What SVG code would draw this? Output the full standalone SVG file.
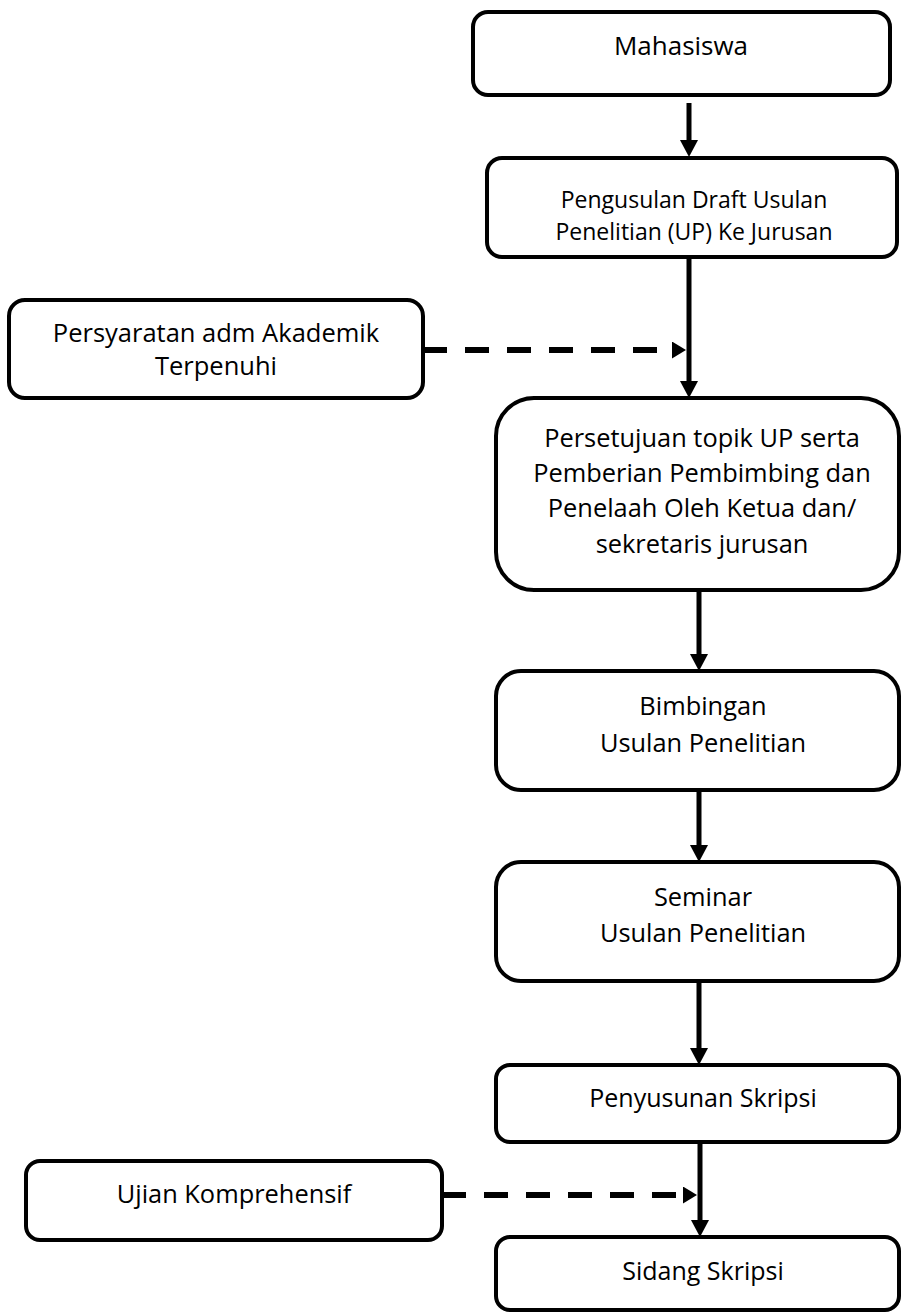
<svg xmlns="http://www.w3.org/2000/svg" width="901" height="1313" viewBox="0 0 901 1313">
<style>
.box{fill:#fff;stroke:#000;stroke-width:4}
.t{font-family:"Open Sans","Noto Sans",sans-serif;fill:#000;text-anchor:middle}
.solid{stroke:#000;stroke-width:5;fill:none}
.dash{stroke:#000;stroke-width:6;fill:none;stroke-dasharray:24 18}
</style>
<defs>
<marker id="ah" markerUnits="userSpaceOnUse" markerWidth="17" markerHeight="18" viewBox="0 0 17 18" refX="0" refY="9" orient="auto"><path d="M0,0 L17,9 L0,18 z" fill="#000"/></marker>
<marker id="ahd" markerUnits="userSpaceOnUse" markerWidth="14" markerHeight="17" viewBox="0 0 14 17" refX="0" refY="8.5" orient="auto"><path d="M0,0 L14,8.5 L0,17 z" fill="#000"/></marker>
</defs>
<rect width="901" height="1313" fill="#fff"/>
<g id="connectors">
<line class="solid" x1="689" y1="103" x2="689" y2="140" marker-end="url(#ah)"/>
<line class="solid" x1="689" y1="257" x2="689" y2="381" marker-end="url(#ah)"/>
<line class="solid" x1="699" y1="590" x2="699" y2="654" marker-end="url(#ah)"/>
<line class="solid" x1="699" y1="790" x2="699" y2="845" marker-end="url(#ah)"/>
<line class="solid" x1="699" y1="981" x2="699" y2="1048" marker-end="url(#ah)"/>
<line class="solid" x1="700" y1="1142" x2="700" y2="1220" marker-end="url(#ah)"/>
<line class="dash" x1="423" y1="350" x2="672" y2="350" marker-end="url(#ahd)"/>
<line class="dash" x1="442" y1="1195" x2="683" y2="1195" marker-end="url(#ahd)"/>
</g>
<g id="mahasiswa">
<rect class="box" x="473" y="12" width="417" height="83" rx="15"/>
<text class="t" x="681" y="55" font-size="26">Mahasiswa</text>
</g>
<g id="pengusulan">
<rect class="box" x="487" y="158" width="410" height="99" rx="15"/>
<text class="t" x="694" y="208" font-size="23">Pengusulan Draft Usulan</text>
<text class="t" x="694" y="240" font-size="23">Penelitian (UP) Ke Jurusan</text>
</g>
<g id="persyaratan">
<rect class="box" x="9" y="300" width="414" height="98" rx="16"/>
<text class="t" x="216" y="342" font-size="25.5">Persyaratan adm Akademik</text>
<text class="t" x="216" y="375" font-size="25.5">Terpenuhi</text>
</g>
<g id="persetujuan">
<rect class="box" x="496" y="398" width="403" height="192" rx="38"/>
<text class="t" x="702" y="447" font-size="25.4">Persetujuan topik UP serta</text>
<text class="t" x="702" y="482" font-size="25.4">Pemberian Pembimbing dan</text>
<text class="t" x="702" y="517" font-size="25.4">Penelaah Oleh Ketua dan/</text>
<text class="t" x="702" y="553" font-size="25.4">sekretaris jurusan</text>
</g>
<g id="bimbingan">
<rect class="box" x="496" y="671" width="403" height="119" rx="25"/>
<text class="t" x="703" y="715" font-size="25.4">Bimbingan</text>
<text class="t" x="703" y="752" font-size="25.4">Usulan Penelitian</text>
</g>
<g id="seminar">
<rect class="box" x="496" y="862" width="403" height="119" rx="25"/>
<text class="t" x="703" y="906" font-size="25.4">Seminar</text>
<text class="t" x="703" y="942" font-size="25.4">Usulan Penelitian</text>
</g>
<g id="penyusunan">
<rect class="box" x="496" y="1065" width="403" height="77" rx="14"/>
<text class="t" x="703" y="1107" font-size="25">Penyusunan Skripsi</text>
</g>
<g id="ujian">
<rect class="box" x="26" y="1161" width="416" height="79" rx="14"/>
<text class="t" x="234" y="1203" font-size="25.4">Ujian Komprehensif</text>
</g>
<g id="sidang">
<rect class="box" x="496" y="1237" width="403" height="73" rx="14"/>
<text class="t" x="703" y="1280" font-size="25">Sidang Skripsi</text>
</g>
</svg>
